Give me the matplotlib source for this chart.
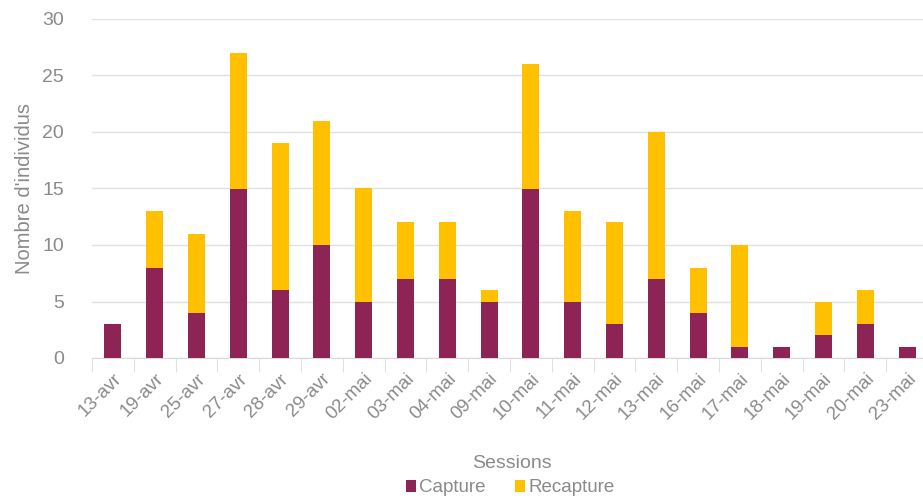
import matplotlib.pyplot as plt
import numpy as np

sessions = ["13-avr", "19-avr", "25-avr", "27-avr", "28-avr", "29-avr", "02-mai",
            "03-mai", "04-mai", "09-mai", "10-mai", "11-mai", "12-mai", "13-mai",
            "16-mai", "17-mai", "18-mai", "19-mai", "20-mai", "23-mai"]
capture = [3, 8, 4, 15, 6, 10, 5, 7, 7, 5, 15, 5, 3, 7, 4, 1, 1, 2, 3, 1]
recapture = [0, 5, 7, 12, 13, 11, 10, 5, 5, 1, 11, 8, 9, 13, 4, 9, 0, 3, 3, 0]

plt.rcParams['font.family'] = ['Liberation Sans', 'DejaVu Sans']
txt = '#8a8a8a'

fig = plt.figure(figsize=(9.23, 4.99), dpi=100)
ax = fig.add_axes([92/923, 141/499, 836/923, 339/499])

x = np.arange(len(sessions))
ax.bar(x, capture, width=0.41, color='#8E2456', label='Capture', zorder=3)
ax.bar(x, recapture, width=0.41, bottom=capture, color='#FFC000', label='Recapture', zorder=3)

ax.set_xlim(-0.5, len(sessions) - 0.5)
ax.set_ylim(0, 30)
ax.set_yticks(range(0, 31, 5))
ax.yaxis.grid(True, color='#e0e0e0', linewidth=1)
ax.set_axisbelow(True)
for s in ['top', 'right', 'left']:
    ax.spines[s].set_visible(False)
ax.spines['bottom'].set_color('#d9d9d9')

ax.set_xticks(x)
ax.set_xticklabels(sessions, rotation=45, ha='right', rotation_mode='anchor')
ax.set_xticks(np.arange(-0.5, len(sessions), 1), minor=True)
ax.tick_params(axis='x', which='major', length=0, labelsize=13.5, colors=txt, pad=9)
ax.tick_params(axis='x', which='minor', length=10, color='#d9d9d9')
ax.tick_params(axis='y', length=0, labelsize=14, colors=txt, pad=20)

ax.set_ylabel("Nombre d'individus", fontsize=14.5, color=txt, labelpad=6)
fig.text(512/923, 1 - 463/499, 'Sessions', ha='center', va='center', fontsize=14, color=txt)
fig.legend(loc='center', bbox_to_anchor=(510/923, 1 - 488/499), ncol=2, frameon=False,
           fontsize=13.5, labelcolor=txt, handlelength=0.55, handleheight=0.55,
           handletextpad=0.15, columnspacing=1.6, borderpad=0)

fig.savefig('out.png', dpi=100)
